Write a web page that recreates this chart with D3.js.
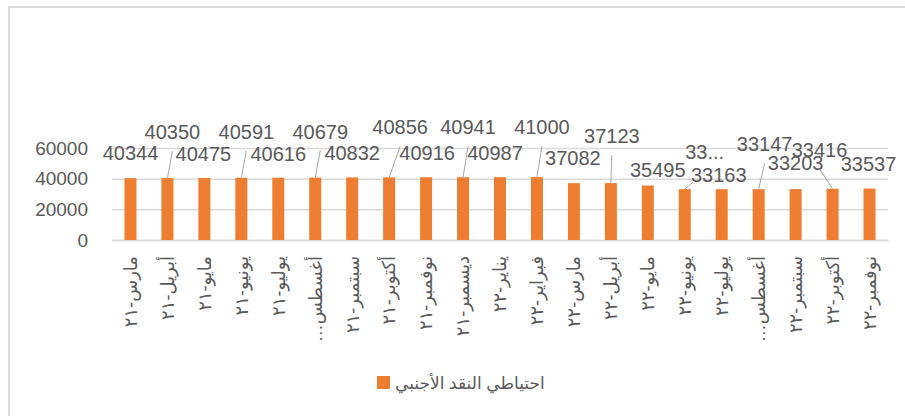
<!DOCTYPE html>
<html>
<head>
<meta charset="utf-8">
<script src="https://cdn.jsdelivr.net/npm/d3@7"></script>
<style>
  body { margin: 0; background: #fff; }
  svg { display: block; }
</style>
</head>
<body>
<div id="main"></div>
<script>
// data
const months = ["مارس-٢١", "أبريل-٢١", "مايو-٢١", "يونيو-٢١", "يوليو-٢١", "أغسطس-٢١",
    "سبتمبر-٢١", "أكتوبر-٢١", "نوفمبر-٢١", "ديسمبر-٢١", "يناير-٢٢", "فبراير-٢٢",
    "مارس-٢٢", "أبريل-٢٢", "مايو-٢٢", "يونيو-٢٢", "يوليو-٢٢", "أغسطس-٢٢",
    "سبتمبر-٢٢", "أكتوبر-٢٢", "نوفمبر-٢٢"];
const reserves = [40344, 40350, 40475, 40591, 40616, 40679, 40832, 40856, 40916, 40941, 40987, 41000,
    37082, 37123, 35495, 33163, 33150, 33147, 33203, 33416, 33537];
const seriesName = "احتياطي النقد الأجنبي";
const yTicks = [0, 20000, 40000, 60000];

// where excel moved the data labels (px from bar top centre), and which got a leader line
const labelShift = [[0, -25], [5, -46], [-1, -24], [5, -46], [0, -24], [5, -46], [0, -24],
    [11, -50], [1, -24], [5, -50], [-5, -24], [5, -50], [-1, -25], [1, -47],
    [10, -16], [34, -14], [-17, -37], [6, -45], [0, -26], [-13, -39], [-1, -25]];
const leader = [0, 1, 0, 1, 0, 1, 0, 1, 0, 1, 0, 1, 0, 1, 0, 1, 0, 1, 0, 1, 0];

const width = 905, height = 416;
const orange = "#ED7D31", textCol = "#595959", gridCol = "#D9D9D9";
const font = "'Liberation Sans', 'DejaVu Sans', Arial, sans-serif";

let svg = d3.select("#main").append("svg")
    .attr("width", width)
    .attr("height", height);

svg.append("rect")
    .attr("x", 9).attr("y", 7)
    .attr("width", 1000).attr("height", 1000)
    .attr("fill", "none")
    .attr("stroke", gridCol)
    .attr("stroke-width", 2);

let scaleX = d3.scaleBand().domain(months).range([112, 888])
    .paddingInner(0.675).paddingOuter(0.3375);
let scaleY = d3.scaleLinear().domain([0, 60000]).range([240, 148]);

// y axis + gridlines
let yAxis = svg.append("g")
    .attr("transform", "translate(112,0)")
    .call(d3.axisLeft(scaleY).tickValues(yTicks).tickSize(-776).tickPadding(24)
        .tickFormat(d3.format("d")));
yAxis.select(".domain").remove();
yAxis.selectAll("line").attr("stroke", gridCol).attr("stroke-width", 1.5);
yAxis.selectAll("text")
    .attr("fill", textCol)
    .style("font-family", font)
    .style("font-size", "19px");

// x axis
let xAxis = svg.append("g")
    .attr("transform", "translate(0,240)")
    .call(d3.axisBottom(scaleX).tickSize(0)
        .tickFormat(function (d) {
            return d.startsWith("أغسطس") ? "أغسطس…" : d;
        }));
xAxis.select(".domain").attr("stroke", gridCol).attr("stroke-width", 1.5);
xAxis.selectAll("text")
    .attr("fill", textCol)
    .style("font-family", font)
    .style("font-size", "18px")
    .attr("direction", "rtl")
    .attr("text-anchor", "start")
    .attr("dy", "0.35em")
    .attr("x", 0)
    .attr("y", 0)
    .attr("transform", "translate(0,16) rotate(-90)");

// bars
svg.append("g").selectAll("rect")
    .data(reserves)
    .join("rect")
    .attr("x", function (d, i) { return scaleX(months[i]); })
    .attr("width", scaleX.bandwidth())
    .attr("y", function (d) { return scaleY(d); })
    .attr("height", function (d) { return scaleY(0) - scaleY(d); })
    .attr("fill", orange);

// data labels
let labels = svg.append("g").selectAll("g")
    .data(reserves)
    .join("g");

labels.each(function (d, i) {
    let g = d3.select(this);
    let bx = scaleX(months[i]) + scaleX.bandwidth() / 2;
    let by = scaleY(d);
    let lx = bx + labelShift[i][0];
    let ly = by + labelShift[i][1];
    let txt = g.append("text")
        .attr("x", lx).attr("y", ly)
        .attr("dy", "0.35em")
        .attr("text-anchor", "middle")
        .attr("fill", textCol)
        .style("font-family", font)
        .style("font-size", "20px")
        .text(i === 16 ? "33..." : d);
    if (leader[i]) {
        let w = txt.node().getComputedTextLength();
        let ex, ey;
        if (by > ly + 19) {
            ex = lx; ey = ly + 19;
        } else {
            ex = bx < lx ? lx - w / 2 + 2 : lx + w / 2 - 2;
            ey = ly + 7;
        }
        g.insert("line", "text")
            .attr("x1", bx).attr("y1", by)
            .attr("x2", ex).attr("y2", ey)
            .attr("stroke", "#A6A6A6")
            .attr("stroke-width", 1);
    }
});

// legend
let legend = svg.append("g").attr("transform", "translate(377,376)");
legend.append("rect")
    .attr("width", 13).attr("height", 13)
    .attr("fill", orange);
legend.append("text")
    .attr("x", 18).attr("y", 7)
    .attr("dy", "0.35em")
    .attr("fill", textCol)
    .style("font-family", font)
    .style("font-size", "17px")
    .text(seriesName);
</script>
</body>
</html>
